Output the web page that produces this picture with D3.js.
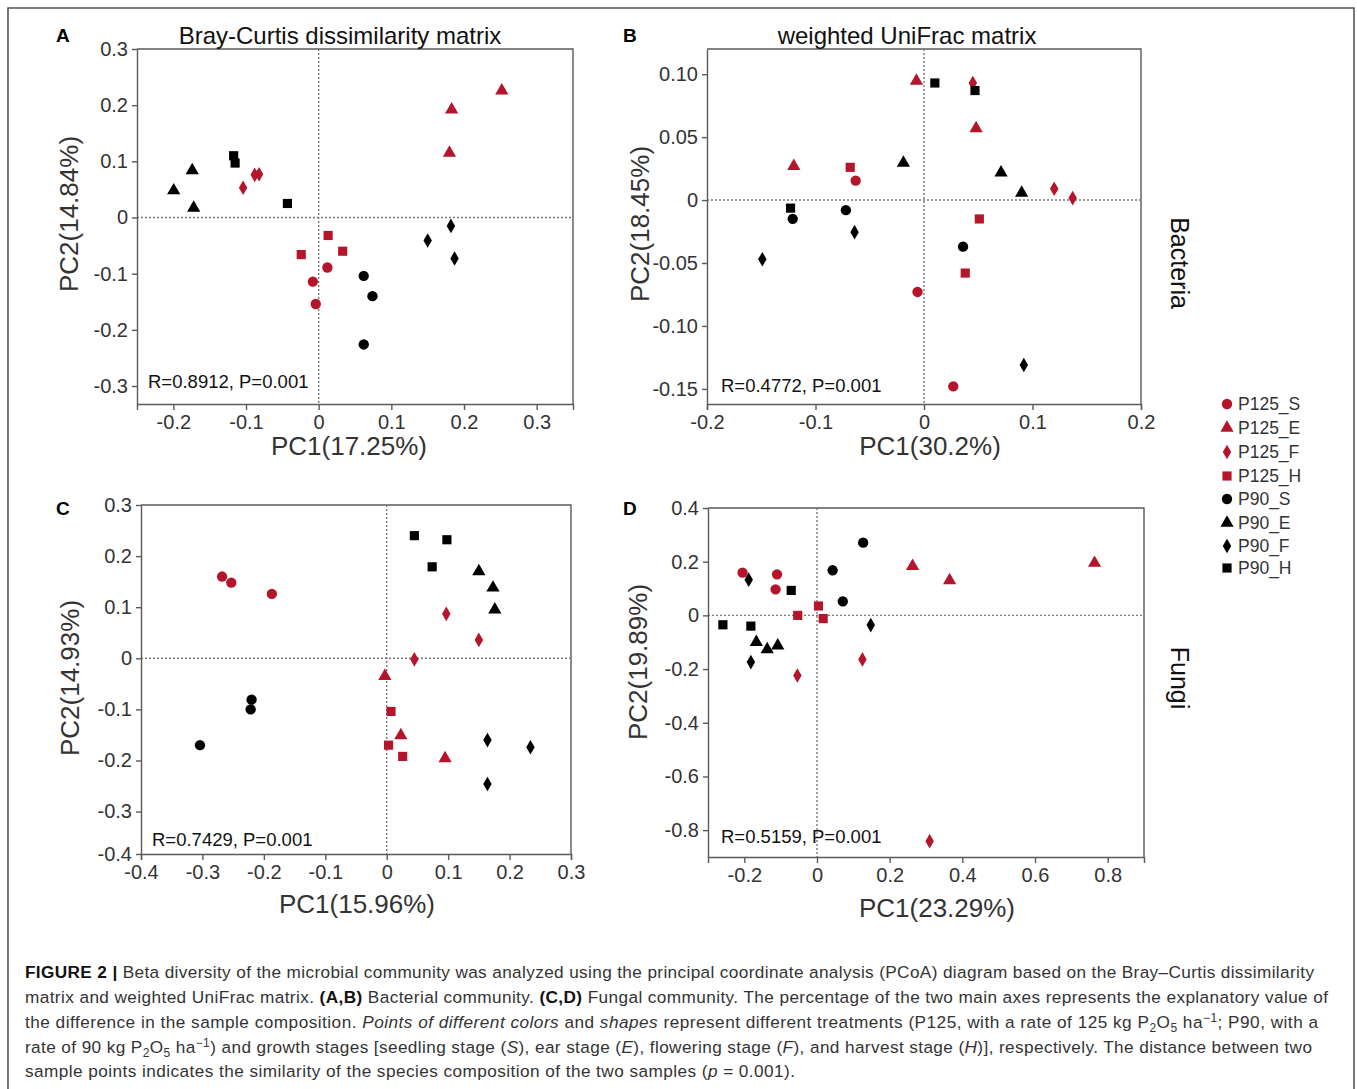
<!DOCTYPE html>
<html>
<head>
<meta charset="utf-8">
<script src="https://cdn.jsdelivr.net/npm/d3@7"></script>
<style>
  body { margin: 0; background: #fff; }
  svg text { font-family: "Liberation Sans", Arial, Helvetica, sans-serif; }
</style>
</head>
<body>
<script>
// groups / legend
var groups = ["P125_S", "P125_E", "P125_F", "P125_H", "P90_S", "P90_E", "P90_F", "P90_H"];
var groupColors = ["#b4152b", "#b4152b", "#b4152b", "#b4152b", "#000000", "#000000", "#000000", "#000000"];
var groupShapes = ["circle", "triangle", "diamond", "square", "circle", "triangle", "diamond", "square"];

// [group, PC1, PC2]
var bacBrayPoints = [
  ["P125_S", -0.008, -0.114], ["P125_S", -0.004, -0.154], ["P125_S", 0.012, -0.089],
  ["P125_E", 0.252, 0.226], ["P125_E", 0.183, 0.192], ["P125_E", 0.180, 0.115],
  ["P125_F", -0.104, 0.053], ["P125_F", -0.088, 0.076], ["P125_F", -0.082, 0.077],
  ["P125_H", -0.024, -0.066], ["P125_H", 0.013, -0.032], ["P125_H", 0.033, -0.060],
  ["P90_S", 0.062, -0.104], ["P90_S", 0.074, -0.140], ["P90_S", 0.062, -0.226],
  ["P90_E", -0.1995, 0.048], ["P90_E", -0.174, 0.084], ["P90_E", -0.172, 0.017],
  ["P90_F", 0.150, -0.041], ["P90_F", 0.182, -0.015], ["P90_F", 0.187, -0.073],
  ["P90_H", -0.117, 0.110], ["P90_H", -0.115, 0.097], ["P90_H", -0.043, 0.025]
];
var bacUnifracPoints = [
  ["P125_S", -0.063, 0.0154], ["P125_S", -0.006, -0.073], ["P125_S", 0.027, -0.148],
  ["P125_E", -0.007, 0.0947], ["P125_E", -0.120, 0.0269], ["P125_E", 0.048, 0.0569],
  ["P125_F", 0.045, 0.093], ["P125_F", 0.120, 0.009], ["P125_F", 0.137, 0.0016],
  ["P125_H", -0.068, 0.026], ["P125_H", 0.051, -0.015], ["P125_H", 0.038, -0.058],
  ["P90_S", -0.121, -0.0149], ["P90_S", -0.072, -0.008], ["P90_S", 0.036, -0.037],
  ["P90_E", -0.019, 0.0295], ["P90_E", 0.071, 0.0218], ["P90_E", 0.090, 0.0056],
  ["P90_F", -0.149, -0.047], ["P90_F", -0.064, -0.0255], ["P90_F", 0.092, -0.131],
  ["P90_H", 0.010, 0.093], ["P90_H", 0.047, 0.087], ["P90_H", -0.123, -0.0064]
];
var funBrayPoints = [
  ["P125_S", -0.268, 0.160], ["P125_S", -0.253, 0.148], ["P125_S", -0.187, 0.126],
  ["P125_E", -0.003, -0.035], ["P125_E", 0.023, -0.151], ["P125_E", 0.095, -0.196],
  ["P125_F", 0.097, 0.087], ["P125_F", 0.150, 0.036], ["P125_F", 0.045, -0.002],
  ["P125_H", 0.007, -0.104], ["P125_H", 0.003, -0.170], ["P125_H", 0.026, -0.192],
  ["P90_S", -0.220, -0.081], ["P90_S", -0.2215, -0.100], ["P90_S", -0.304, -0.170],
  ["P90_E", 0.150, 0.170], ["P90_E", 0.173, 0.138], ["P90_E", 0.176, 0.095],
  ["P90_F", 0.164, -0.160], ["P90_F", 0.234, -0.174], ["P90_F", 0.164, -0.246],
  ["P90_H", 0.045, 0.240], ["P90_H", 0.098, 0.232], ["P90_H", 0.074, 0.179]
];
var funUnifracPoints = [
  ["P125_S", -0.205, 0.159], ["P125_S", -0.110, 0.153], ["P125_S", -0.114, 0.097],
  ["P125_E", 0.263, 0.183], ["P125_E", 0.365, 0.130], ["P125_E", 0.764, 0.195],
  ["P125_F", -0.054, -0.224], ["P125_F", 0.125, -0.164], ["P125_F", 0.310, -0.841],
  ["P125_H", -0.053, 0.0], ["P125_H", 0.004, 0.035], ["P125_H", 0.017, -0.012],
  ["P90_S", 0.127, 0.271], ["P90_S", 0.043, 0.168], ["P90_S", 0.071, 0.052],
  ["P90_E", -0.167, -0.100], ["P90_E", -0.137, -0.127], ["P90_E", -0.108, -0.113],
  ["P90_F", -0.188, 0.133], ["P90_F", -0.182, -0.174], ["P90_F", 0.148, -0.036],
  ["P90_H", -0.071, 0.093], ["P90_H", -0.259, -0.035], ["P90_H", -0.182, -0.040]
];

// ticks and labels
var aXTicks = [-0.2, -0.1, 0, 0.1, 0.2, 0.3];
var aXLabels = ["-0.2", "-0.1", "0", "0.1", "0.2", "0.3"];
var aYTicks = [0.3, 0.2, 0.1, 0, -0.1, -0.2, -0.3];
var aYLabels = ["0.3", "0.2", "0.1", "0", "-0.1", "-0.2", "-0.3"];
var bXTicks = [-0.2, -0.1, 0, 0.1, 0.2];
var bXLabels = ["-0.2", "-0.1", "0", "0.1", "0.2"];
var bYTicks = [0.10, 0.05, 0, -0.05, -0.10, -0.15];
var bYLabels = ["0.10", "0.05", "0", "-0.05", "-0.10", "-0.15"];
var cXTicks = [-0.4, -0.3, -0.2, -0.1, 0, 0.1, 0.2, 0.3];
var cXLabels = ["-0.4", "-0.3", "-0.2", "-0.1", "0", "0.1", "0.2", "0.3"];
var cYTicks = [0.3, 0.2, 0.1, 0, -0.1, -0.2, -0.3, -0.383];
var cYLabels = ["0.3", "0.2", "0.1", "0", "-0.1", "-0.2", "-0.3", "-0.4"];
var dXTicks = [-0.2, 0, 0.2, 0.4, 0.6, 0.8];
var dXLabels = ["-0.2", "0", "0.2", "0.4", "0.6", "0.8"];
var dYTicks = [0.4, 0.2, 0, -0.2, -0.4, -0.6, -0.8];
var dYLabels = ["0.4", "0.2", "0", "-0.2", "-0.4", "-0.6", "-0.8"];

var panelTitles = ["Bray-Curtis dissimilarity matrix", "weighted UniFrac matrix"];
var xTitles = ["PC1(17.25%)", "PC1(30.2%)", "PC1(15.96%)", "PC1(23.29%)"];
var yTitles = ["PC2(14.84%)", "PC2(18.45%)", "PC2(14.93%)", "PC2(19.89%)"];
var statTexts = ["R=0.8912, P=0.001", "R=0.4772, P=0.001", "R=0.7429, P=0.001", "R=0.5159, P=0.001"];

var width = 1357, height = 1089;
var axisColor = "#5a5a5a";
var tickTextColor = "#333";
var fontFam = '"Liberation Sans", Arial, Helvetica, sans-serif';

var svg = d3.select("body").append("svg")
  .attr("width", width).attr("height", height);

// outer figure frame
svg.append("path")
  .attr("d", "M8," + height + "V8H1354V" + height)
  .attr("fill", "none").attr("stroke", "#555").attr("stroke-width", 1.6);

function symbolFor(name, k) {
  var i = groups.indexOf(name);
  var s = groupShapes[i];
  k = k || 1;
  if (s == "circle") return d3.symbol(d3.symbolCircle, 84 * k)();
  if (s == "triangle") return d3.symbol(d3.symbolTriangle, 76 * k)();
  if (s == "diamond") return d3.symbol(d3.symbolDiamond, 62 * k)();
  return d3.symbol(d3.symbolSquare, 84 * k)();
}
function colorFor(name) { return groupColors[groups.indexOf(name)]; }

function drawPanel(p) {
  var x = d3.scaleLinear().domain(p.xDomain).range([p.left, p.right]);
  var y = d3.scaleLinear().domain(p.yDomain).range([p.bottom, p.top]);
  var g = svg.append("g");

  // top/right frame
  g.append("path")
    .attr("d", "M" + p.left + "," + p.top + "H" + p.right + "V" + p.bottom)
    .attr("fill", "none").attr("stroke", axisColor).attr("stroke-width", 1.4);

  // zero lines
  g.append("line")
    .attr("x1", x(0)).attr("x2", x(0)).attr("y1", p.top).attr("y2", p.bottom)
    .attr("stroke", "#777").attr("stroke-width", 1.4).attr("stroke-dasharray", "2,2");
  g.append("line")
    .attr("x1", p.left).attr("x2", p.right).attr("y1", y(0)).attr("y2", y(0))
    .attr("stroke", "#777").attr("stroke-width", 1.4).attr("stroke-dasharray", "2,2");

  var xAxis = d3.axisBottom(x).tickValues(p.xTicks)
    .tickFormat(function(d, i) { return p.xLabels[i]; })
    .tickSize(6).tickSizeOuter(6).tickPadding(5);
  var yAxis = d3.axisLeft(y).tickValues(p.yTicks)
    .tickFormat(function(d, i) { return p.yLabels[i]; })
    .tickSize(5).tickSizeOuter(0).tickPadding(4);

  var gx = g.append("g").attr("transform", "translate(0," + p.bottom + ")").call(xAxis);
  var gy = g.append("g").attr("transform", "translate(" + p.left + ",0)").call(yAxis);
  [gx, gy].forEach(function(a) {
    a.select(".domain").attr("stroke", axisColor).attr("stroke-width", 1.4);
    a.selectAll(".tick line").attr("stroke", axisColor).attr("stroke-width", 1.4);
    a.selectAll("text").attr("font-size", 20).attr("font-family", fontFam).attr("fill", tickTextColor);
  });

  // points
  g.selectAll("path.pt").data(p.points).join("path")
    .attr("class", "pt")
    .attr("transform", function(d) { return "translate(" + x(d[1]) + "," + y(d[2]) + ")"; })
    .attr("d", function(d) { return symbolFor(d[0]); })
    .attr("fill", function(d) { return colorFor(d[0]); });

  // stats
  g.append("text").attr("x", p.statX).attr("y", p.statY)
    .attr("font-size", 18.5).attr("fill", "#111").text(p.stat);

  // titles
  if (p.title) {
    g.append("text").attr("x", p.titleX).attr("y", 44)
      .attr("text-anchor", "middle").attr("font-size", 24).attr("fill", "#111").text(p.title);
  }
  g.append("text").attr("x", (p.left + p.right) / 2 + p.xTitleDx).attr("y", p.xTitleY)
    .attr("text-anchor", "middle").attr("font-size", 26).attr("fill", "#333").text(p.xTitle);
  g.append("text")
    .attr("transform", "translate(" + p.yTitleX + "," + p.yTitleY + ") rotate(-90)")
    .attr("dy", "0.35em").attr("text-anchor", "middle").attr("font-size", 26).attr("fill", "#333")
    .text(p.yTitle);

  // panel letter
  g.append("text").attr("x", p.letterX).attr("y", p.letterY)
    .attr("font-size", 19).attr("font-weight", "bold").attr("fill", "#000").text(p.letter);
}

drawPanel({
  left: 137, right: 573, top: 49, bottom: 404,
  xDomain: [-0.25, 0.35], yDomain: [-0.332, 0.3],
  xTicks: aXTicks, xLabels: aXLabels, yTicks: aYTicks, yLabels: aYLabels,
  points: bacBrayPoints, stat: statTexts[0], statX: 148, statY: 388,
  title: panelTitles[0], titleX: 340,
  xTitle: xTitles[0], xTitleDx: -6, xTitleY: 455,
  yTitle: yTitles[0], yTitleX: 69, yTitleY: 214,
  letter: "A", letterX: 56, letterY: 42
});
drawPanel({
  left: 707, right: 1141, top: 49, bottom: 404,
  xDomain: [-0.2, 0.2], yDomain: [-0.162, 0.12],
  xTicks: bXTicks, xLabels: bXLabels, yTicks: bYTicks, yLabels: bYLabels,
  points: bacUnifracPoints, stat: statTexts[1], statX: 721, statY: 392,
  title: panelTitles[1], titleX: 907,
  xTitle: xTitles[1], xTitleDx: 6, xTitleY: 455,
  yTitle: yTitles[1], yTitleX: 640, yTitleY: 224,
  letter: "B", letterX: 623, letterY: 42
});
drawPanel({
  left: 141, right: 571, top: 505, bottom: 854,
  xDomain: [-0.4, 0.3], yDomain: [-0.383, 0.3],
  xTicks: cXTicks, xLabels: cXLabels, yTicks: cYTicks, yLabels: cYLabels,
  points: funBrayPoints, stat: statTexts[2], statX: 152, statY: 846,
  xTitle: xTitles[2], xTitleDx: 1, xTitleY: 913,
  yTitle: yTitles[2], yTitleX: 70, yTitleY: 678,
  letter: "C", letterX: 56, letterY: 515
});
drawPanel({
  left: 708, right: 1144, top: 508, bottom: 857,
  xDomain: [-0.3, 0.9], yDomain: [-0.9, 0.4],
  xTicks: dXTicks, xLabels: dXLabels, yTicks: dYTicks, yLabels: dYLabels,
  points: funUnifracPoints, stat: statTexts[3], statX: 721, statY: 843,
  xTitle: xTitles[3], xTitleDx: 11, xTitleY: 917,
  yTitle: yTitles[3], yTitleX: 638, yTitleY: 662,
  letter: "D", letterX: 623, letterY: 515
});

// row labels
svg.append("text").attr("transform", "translate(1180,263) rotate(90)")
  .attr("dy", "0.35em").attr("text-anchor", "middle").attr("font-size", 25).attr("fill", "#111")
  .text("Bacteria");
svg.append("text").attr("transform", "translate(1180,678) rotate(90)")
  .attr("dy", "0.35em").attr("text-anchor", "middle").attr("font-size", 25).attr("fill", "#111")
  .text("Fungi");

// legend
var legendY = [404, 428, 452, 476, 499, 523, 546, 568];
var leg = svg.append("g");
groups.forEach(function(gname, i) {
  leg.append("path")
    .attr("transform", "translate(1227," + legendY[i] + ")")
    .attr("d", symbolFor(gname, 1.0))
    .attr("fill", groupColors[i]);
  leg.append("text").attr("x", 1238).attr("y", legendY[i]).attr("dy", "0.36em")
    .attr("font-size", 17.5).attr("fill", "#333").text(gname);
});

// caption, each line: [segments], target width
var captionLines = [
  [[["FIGURE 2 | ", "b"], ["Beta diversity of the microbial community was analyzed using the principal coordinate analysis (PCoA) diagram based on the Bray\u2013Curtis dissimilarity", ""]], 1289],
  [[["matrix and weighted UniFrac matrix. ", ""], ["(A,B)", "b"], [" Bacterial community. ", ""], ["(C,D)", "b"], [" Fungal community. The percentage of the two main axes represents the explanatory value of", ""]], 1303],
  [[["the difference in the sample composition. ", ""], ["Points of different colors", "i"], [" and ", ""], ["shapes", "i"], [" represent different treatments (P125, with a rate of 125 kg P", ""], ["2", "sub"], ["O", ""], ["5", "sub"], [" ha", ""], ["\u22121", "sup"], ["; P90, with a", ""]], 1293],
  [[["rate of 90 kg P", ""], ["2", "sub"], ["O", ""], ["5", "sub"], [" ha", ""], ["\u22121", "sup"], [") and growth stages [seedling stage (", ""], ["S", "i"], ["), ear stage (", ""], ["E", "i"], ["), flowering stage (", ""], ["F", "i"], ["), and harvest stage (", ""], ["H", "i"], [")], respectively. The distance between two", ""]], 1287],
  [[["sample points indicates the similarity of the species composition of the two samples (", ""], ["p", "i"], [" = 0.001).", ""]], 770]
];
var captionY = [978, 1003, 1028, 1053, 1077];

captionLines.forEach(function(line, li) {
  var t = svg.append("text").attr("x", 25).attr("y", captionY[li])
    .attr("font-size", 17.2).attr("fill", "#333");
  var shift = 0;
  line[0].forEach(function(seg) {
    var ts = t.append("tspan").text(seg[0]);
    var want = 0;
    if (seg[1] == "b") ts.attr("font-weight", "bold").attr("fill", "#111");
    if (seg[1] == "i") ts.attr("font-style", "italic");
    if (seg[1] == "sub") { ts.attr("font-size", 12); want = 4; }
    if (seg[1] == "sup") { ts.attr("font-size", 12); want = -6; }
    if (want - shift != 0) ts.attr("dy", want - shift);
    shift = want;
  });
  var natural = t.node().getComputedTextLength();
  var n = t.text().length;
  var ls = (line[1] - natural) / (n - 1);
  t.attr("letter-spacing", ls);
});
</script>
</body>
</html>
